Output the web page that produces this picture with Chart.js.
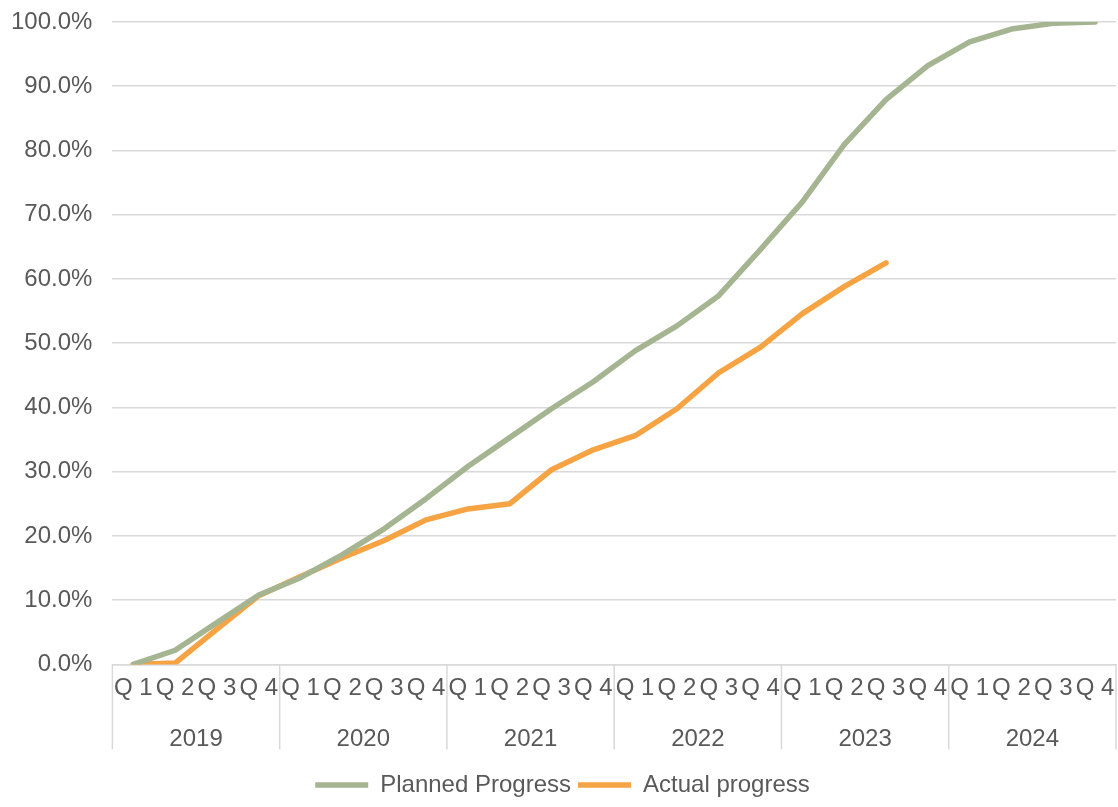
<!DOCTYPE html>
<html>
<head>
<meta charset="utf-8">
<script src="https://cdn.jsdelivr.net/npm/chart.js@4"></script>
<style>
  html,body{margin:0;padding:0;background:#fff;}
  #wrap{width:1118px;height:807px;position:relative;}
</style>
</head>
<body>
<div id="wrap"><canvas id="progress"></canvas></div>
<script>
const years=['2019','2020','2021','2022','2023','2024'];
const quarters=['Q 1','Q 2','Q 3','Q 4'];
const planned=[0,2.2,6.5,10.8,13.5,17.1,21.1,25.8,30.8,35.3,39.8,44.0,48.8,52.7,57.4,64.6,72.0,80.9,87.9,93.2,96.9,98.9,99.8,100];
const actual=[0,0.2,5.5,10.7,13.7,16.6,19.3,22.5,24.2,25.0,30.3,33.4,35.6,39.8,45.4,49.4,54.6,58.8,62.5,null,null,null,null,null];

const labels=[];
years.forEach(()=>quarters.forEach(q=>labels.push(q)));

const TXT='#595959', GRID='#d9d9d9';
const FONT={family:'"Liberation Sans", Arial, sans-serif',size:24};

// year separators under the axis
const yearLines={
  id:'yearLines',
  afterDraw(chart){
    const x=chart.scales.x, a=chart.chartArea, ctx=chart.ctx;
    const n=labels.length;
    ctx.save();
    ctx.strokeStyle=GRID;ctx.lineWidth=1.5;
    for(let i=0;i<=n;i+=quarters.length){
      let px;
      if(i===0) px=x.left;
      else if(i===n) px=x.right;
      else px=(x.getPixelForTick(i-1)+x.getPixelForTick(i))/2;
      ctx.beginPath();ctx.moveTo(px,a.bottom);ctx.lineTo(px,a.bottom+85);ctx.stroke();
    }
    ctx.restore();
  }
};

new Chart(document.getElementById('progress'),{
  type:'line',
  data:{labels:labels,datasets:[
    {label:'Planned Progress',data:planned,borderColor:'#a5b592',backgroundColor:'#a5b592',
     borderWidth:5.5,pointRadius:0,tension:0,borderCapStyle:'round',borderJoinStyle:'round'},
    {label:'Actual progress',data:actual,borderColor:'#f5a343',backgroundColor:'#f5a343',
     borderWidth:5.5,pointRadius:0,tension:0,borderCapStyle:'round',borderJoinStyle:'round'}
  ]},
  options:{responsive:true,maintainAspectRatio:false,animation:false,
    layout:{padding:{top:22,right:2,left:9,bottom:0}},
    plugins:{
      legend:{position:'bottom',
        labels:{usePointStyle:true,pointStyle:'line',pointStyleWidth:53,color:TXT,font:FONT,padding:7,boxHeight:20}},
      tooltip:{enabled:false}
    },
    scales:{
      y:{min:0,max:100,
        ticks:{stepSize:10,color:TXT,font:FONT,padding:2,callback:v=>v.toFixed(1)+'%'},
        grid:{color:GRID,lineWidth:1.5,drawTicks:true,tickLength:18,tickColor:'transparent'},border:{display:false}},
      x:{offset:true,grid:{display:false},border:{display:true,color:GRID,width:1.5},
        ticks:{color:TXT,font:FONT,autoSkip:false,maxRotation:0,padding:2}},
      x2:{type:'category',labels:years,position:'bottom',offset:true,
        grid:{display:false},border:{display:false},
        ticks:{color:TXT,font:FONT,maxRotation:0,padding:12}}
    }
  },
  plugins:[yearLines]
});
</script>
</body>
</html>
